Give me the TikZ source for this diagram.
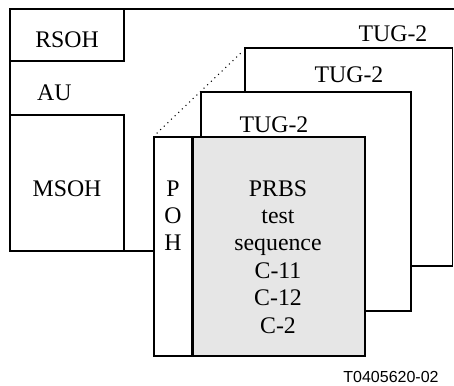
\documentclass[tikz,border=0pt]{standalone}
\usepackage{fontspec}
\setmainfont{Liberation Serif}
\newfontfamily\footfont{Liberation Sans}
\definecolor{boxgray}{HTML}{E6E6E6}
\begin{document}
\begin{tikzpicture}[x=1pt,y=-1pt,
  frame/.style={draw=black,line width=1.4pt},
  lbl/.style={inner sep=0pt,anchor=base,font=\fontsize{23.8}{27.4}\selectfont},
  lblw/.style={lbl,anchor=base west}]
\useasboundingbox (0,0) rectangle (454,385);
% outer frame
\draw[frame] (454,9) -- (10,9) -- (10,251) -- (154,251);
\draw[frame] (10,61) -- (124,61) -- (124,9);
\draw[frame] (10,115) -- (124,115) -- (124,251);
% dotted perspective line
\draw[line width=1.5pt,line cap=round,dash pattern=on 0pt off 5pt] (157,133) -- (243,51);
% back TUG-2
\draw[frame,fill=white] (245,48) rectangle (452.5,266);
% middle TUG-2
\draw[frame,fill=white] (201,92) rectangle (411,311);
% front box
\draw[frame,fill=white] (154,137) rectangle (192,356);
\draw[frame,fill=boxgray] (192,137) rectangle (365,356);
\draw[line width=3pt] (192,137) -- (192,356);
% labels
\node[lbl] (rsoh) at (67,48) {RSOH};
\node[lblw] (au) at (37,100) {AU};
\node[lbl] (msoh) at (67,196) {MSOH};
\node[lbl] (tugA) at (393,42) {TUG-2};
\node[lbl] (tugB) at (349,82) {TUG-2};
\node[lbl] (tugC) at (274,132) {TUG-2};
\node[lbl] (p) at (173,196) {P};
\node[lbl] (o) at (173,223.4) {O};
\node[lbl] (h) at (173,250.8) {H};
\node[lbl] (l1) at (278,196) {PRBS};
\node[lbl] (l2) at (278,223.4) {test};
\node[lbl] (l3) at (278,250.8) {sequence};
\node[lbl] (l4) at (278,278.2) {C-11};
\node[lbl] (l5) at (278,305.6) {C-12};
\node[lbl] (l6) at (278,333) {C-2};
\node[inner sep=0pt,anchor=base,font=\footfont\fontsize{16}{18}\selectfont] (fig) at (391,382) {T0405620-02};
\end{tikzpicture}
\end{document}
